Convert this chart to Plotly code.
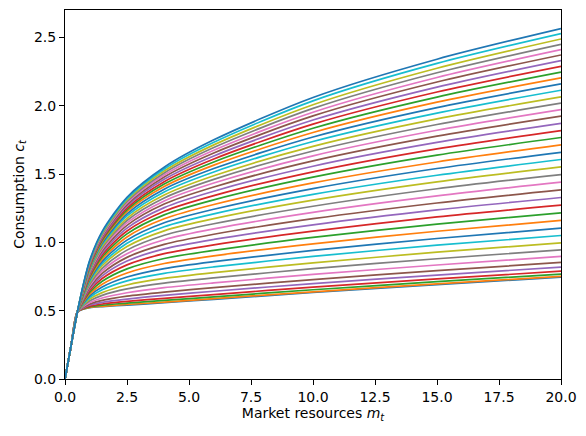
import plotly.graph_objects as go

# Market resources grid (x positions where each consumption function was read)
m_grid = [0.0, 0.25, 0.5, 0.75, 1.0, 1.5, 2.5, 4.0, 6.0, 10.0, 15.0, 20.0]

# Shared constrained segment (c = m) for all periods
c_start = [0.0, 0.25, 0.49]

# Consumption values per period (bottom line first), read at m = 0.75 ... 20
c_rest = [
    [0.512, 0.522, 0.530, 0.541, 0.558, 0.583, 0.633, 0.690, 0.745],
    [0.513, 0.524, 0.532, 0.545, 0.562, 0.588, 0.638, 0.696, 0.751],
    [0.515, 0.528, 0.540, 0.555, 0.575, 0.601, 0.653, 0.712, 0.768],
    [0.518, 0.533, 0.549, 0.568, 0.590, 0.618, 0.672, 0.732, 0.789],
    [0.522, 0.541, 0.561, 0.585, 0.612, 0.642, 0.698, 0.760, 0.819],
    [0.526, 0.549, 0.575, 0.606, 0.636, 0.669, 0.727, 0.793, 0.853],
    [0.532, 0.560, 0.593, 0.631, 0.668, 0.703, 0.765, 0.834, 0.897],
    [0.538, 0.572, 0.612, 0.659, 0.701, 0.740, 0.807, 0.880, 0.945],
    [0.545, 0.585, 0.632, 0.688, 0.736, 0.779, 0.850, 0.928, 0.996],
    [0.551, 0.598, 0.653, 0.718, 0.773, 0.820, 0.897, 0.979, 1.050],
    [0.558, 0.610, 0.673, 0.746, 0.808, 0.859, 0.941, 1.028, 1.104],
    [0.565, 0.623, 0.694, 0.776, 0.845, 0.901, 0.989, 1.081, 1.160],
    [0.572, 0.635, 0.715, 0.806, 0.882, 0.941, 1.036, 1.133, 1.216],
    [0.578, 0.648, 0.735, 0.835, 0.917, 0.982, 1.082, 1.186, 1.272],
    [0.585, 0.660, 0.754, 0.863, 0.952, 1.021, 1.128, 1.237, 1.328],
    [0.591, 0.672, 0.773, 0.890, 0.985, 1.059, 1.173, 1.288, 1.384],
    [0.597, 0.684, 0.792, 0.917, 1.019, 1.098, 1.219, 1.340, 1.440],
    [0.603, 0.695, 0.810, 0.943, 1.052, 1.136, 1.264, 1.392, 1.496],
    [0.609, 0.707, 0.829, 0.969, 1.084, 1.173, 1.309, 1.443, 1.552],
    [0.615, 0.717, 0.845, 0.993, 1.114, 1.208, 1.351, 1.491, 1.606],
    [0.621, 0.727, 0.861, 1.016, 1.143, 1.242, 1.393, 1.540, 1.659],
    [0.626, 0.738, 0.877, 1.039, 1.172, 1.277, 1.435, 1.588, 1.713],
    [0.632, 0.748, 0.893, 1.062, 1.201, 1.311, 1.477, 1.638, 1.767],
    [0.637, 0.757, 0.908, 1.083, 1.227, 1.342, 1.516, 1.684, 1.818],
    [0.642, 0.766, 0.922, 1.104, 1.254, 1.374, 1.557, 1.731, 1.871],
    [0.647, 0.775, 0.936, 1.124, 1.280, 1.405, 1.596, 1.777, 1.923],
    [0.651, 0.783, 0.949, 1.142, 1.303, 1.434, 1.633, 1.820, 1.971],
    [0.655, 0.791, 0.961, 1.160, 1.325, 1.461, 1.668, 1.862, 2.018],
    [0.659, 0.799, 0.973, 1.176, 1.346, 1.487, 1.702, 1.903, 2.064],
    [0.664, 0.806, 0.985, 1.193, 1.369, 1.515, 1.738, 1.946, 2.113],
    [0.668, 0.813, 0.995, 1.209, 1.389, 1.540, 1.771, 1.986, 2.159],
    [0.672, 0.820, 1.006, 1.224, 1.408, 1.565, 1.804, 2.026, 2.203],
    [0.675, 0.827, 1.015, 1.237, 1.426, 1.588, 1.835, 2.063, 2.246],
    [0.679, 0.833, 1.025, 1.251, 1.444, 1.610, 1.865, 2.100, 2.288],
    [0.682, 0.839, 1.034, 1.264, 1.461, 1.632, 1.895, 2.136, 2.330],
    [0.685, 0.845, 1.043, 1.276, 1.478, 1.654, 1.925, 2.173, 2.371],
    [0.688, 0.850, 1.050, 1.288, 1.493, 1.674, 1.952, 2.206, 2.410],
    [0.691, 0.855, 1.058, 1.299, 1.508, 1.694, 1.980, 2.241, 2.449],
    [0.694, 0.860, 1.066, 1.310, 1.522, 1.713, 2.007, 2.274, 2.488],
    [0.697, 0.865, 1.073, 1.320, 1.537, 1.732, 2.035, 2.309, 2.527],
    [0.700, 0.870, 1.080, 1.330, 1.550, 1.750, 2.060, 2.340, 2.564],
]

x_ticks = [0.0, 2.5, 5.0, 7.5, 10.0, 12.5, 15.0, 17.5, 20.0]
x_tick_labels = ["0.0", "2.5", "5.0", "7.5", "10.0", "12.5", "15.0", "17.5", "20.0"]
y_ticks = [0.0, 0.5, 1.0, 1.5, 2.0, 2.5]
y_tick_labels = ["0.0", "0.5", "1.0", "1.5", "2.0", "2.5"]

colors = ["#1f77b4", "#ff7f0e", "#2ca02c", "#d62728", "#9467bd",
          "#8c564b", "#e377c2", "#7f7f7f", "#bcbd22", "#17becf"]

fig = go.Figure()
for i, vals in enumerate(c_rest):
    fig.add_trace(go.Scatter(
        x=m_grid, y=c_start + vals, mode="lines",
        line=dict(color=colors[i % 10], width=1.7, shape="spline", smoothing=0.8),
        hoverinfo="skip", showlegend=False,
    ))

axis_common = dict(
    showline=True, linecolor="black", linewidth=1, mirror=True,
    ticks="outside", ticklen=5, tickwidth=1, tickcolor="black",
    showgrid=False, zeroline=False, automargin=False,
    tickfont=dict(family="DejaVu Sans", size=14, color="black"),
)

# The page body adds an 8 px offset, so the figure is sized to fit inside it.
fig.update_layout(
    width=570, height=420,
    margin=dict(l=57, r=17, t=2, b=49),
    paper_bgcolor="white", plot_bgcolor="white",
    font=dict(family="DejaVu Sans", color="black"),
    xaxis=dict(range=[0, 20], tickvals=x_ticks, ticktext=x_tick_labels,
               title=dict(text="Market resources <i>m</i><sub><i>t</i></sub>",
                          font=dict(size=14), standoff=4),
               **axis_common),
    yaxis=dict(range=[0, 2.7], tickvals=y_ticks, ticktext=y_tick_labels,
               title=dict(text="Consumption <i>c</i><sub><i>t</i></sub>",
                          font=dict(size=14), standoff=6),
               **axis_common),
)

fig.write_html("out.html")
